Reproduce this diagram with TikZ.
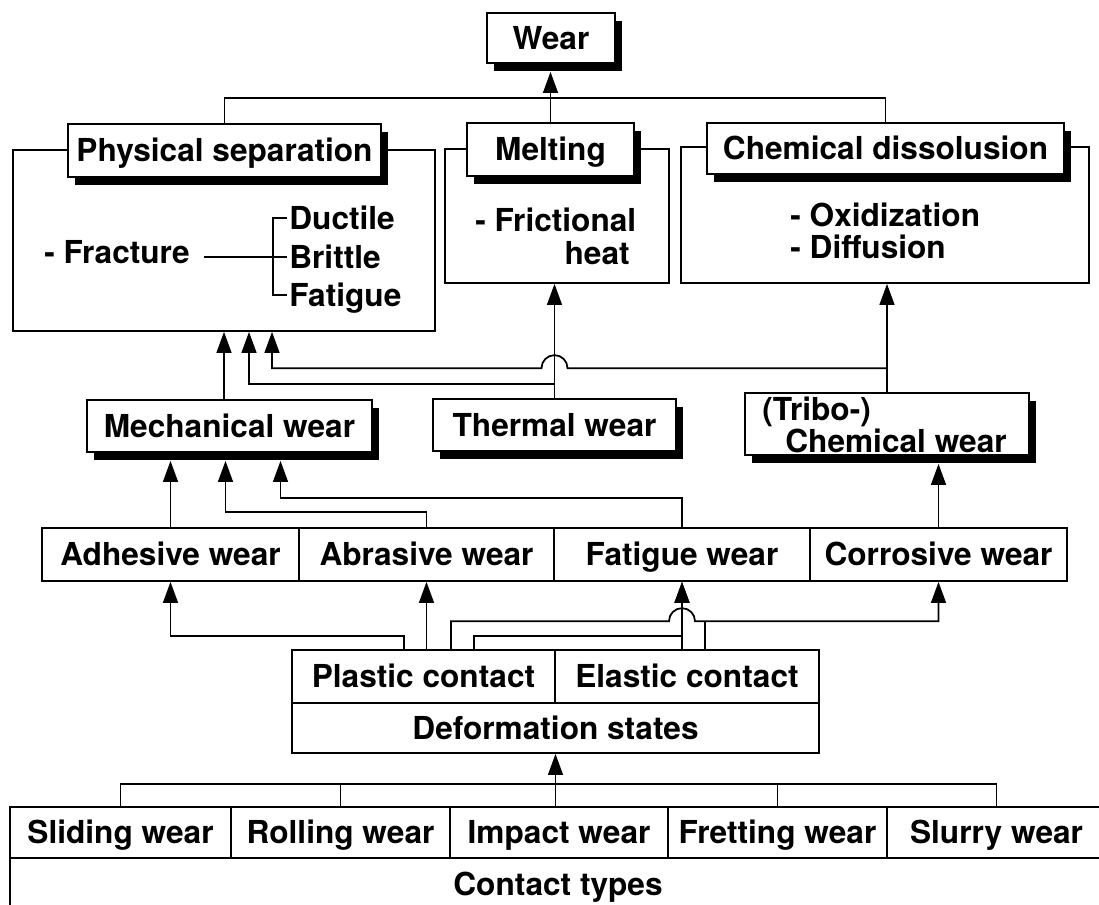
\documentclass[tikz,border=0pt]{standalone}
\usepackage{fontspec}
\setmainfont{TeX Gyre Heros}
\usetikzlibrary{arrows.meta,shadows,calc}

\begin{document}
\begin{tikzpicture}[x=0.02cm, y=-0.02cm,
    font=\fontsize{18}{18}\selectfont\bfseries,
    box/.style={draw, line width=1pt, fill=white, inner sep=0pt,
      text height=12.9pt, text depth=0pt},
    sbox/.style={box, drop shadow={shadow xshift=0.14cm, shadow yshift=-0.16cm,
      fill=black, opacity=1}},
    cont/.style={draw, line width=1pt, inner sep=0pt},
    lbl/.style={inner sep=0pt, anchor=base west},
    wire/.style={line width=1pt},
    arr/.style={wire, -{Triangle[length=12pt,width=8.5pt]}},
    arrs/.style={arr, shorten >=0.16cm}]
  \useasboundingbox (0,0) rectangle (1099,904);

  % top
  \node[sbox, minimum width=2.56cm, minimum height=1cm] (wear) at (551,38) {Wear};

  % the three kinds of separation
  \node[cont, minimum width=8.44cm, minimum height=3.62cm] (psc) at (224,240.5) {};
  \node[cont, minimum width=4.48cm, minimum height=2.68cm] (mlc) at (557,216) {};
  \node[cont, minimum width=8.16cm, minimum height=2.72cm] (cdc) at (885,215) {};
  \node[sbox, minimum width=6.26cm, minimum height=1.06cm] (pst) at (224.5,150.5) {Physical separation};
  \node[sbox, minimum width=3.34cm, minimum height=1.06cm] (mlt) at (550.5,149.5) {Melting};
  \node[sbox, minimum width=7.14cm, minimum height=1.02cm] (cdt) at (885.5,148.5) {Chemical dissolusion};

  \node[lbl] (frac) at (44,263) {- Fracture};
  \node[lbl] (duc) at (289,229) {Ductile};
  \node[lbl] (bri) at (289,268) {Brittle};
  \node[lbl] (fti) at (289,306) {Fatigue};
  \draw[wire] ($(duc.base west)+(-2,-11)$) -- ++(-14,0) |- ($(fti.base west)+(-2,-11)$);
  \draw[wire] ($(frac.base east)+(14,-6)$) -- ($(bri.base west)+(-2,-11)$);

  \node[lbl] (fri) at (475,231) {- Frictional};
  \node[lbl, anchor=base east] (hea) at (630,264) {heat};
  \node[lbl] (oxi) at (790,226) {- Oxidization};
  \node[lbl] (dif) at (790,258) {- Diffusion};

  \draw[wire] (pst.north) -- ++(0,-25) -| (cdt.north);
  \draw[arrs] (mlt.north) -- (mlt.north |- wear.south);

  % wear classes
  \node[sbox, minimum width=5.7cm, minimum height=1.04cm] (mech) at (229.5,426) {Mechanical wear};
  \node[sbox, minimum width=4.86cm, minimum height=1.04cm] (thw) at (554.5,425) {Thermal wear};
  \node[sbox, minimum width=5.68cm, minimum height=1.24cm] (cmw) at (887,424) {};
  \node[lbl] (tri) at (762,420) {(Tribo-)};
  \node[lbl] (chw) at (785,452) {Chemical wear};

  \draw[arr] (psc.south |- mech.north) -- (psc.south);
  \draw[arr] ($(thw.north)+(0,-14)$) -| ($(psc.south)+(25,0)$);
  \draw[arr] (thw.north) -- (thw.north |- mlc.south);
  \draw[arr] (cmw.north) -- (cmw.north |- cdc.south);
  \draw[arr] ($(cmw.north)+(0,-24)$) -- ($(thw.north |- cmw.north)+(13,-24)$)
    arc[start angle=0, end angle=180, radius=0.26cm] -| ($(psc.south)+(48,0)$);

  % wear mechanisms
  \node[box, minimum width=5.14cm, minimum height=1.06cm] (adh) at (170.5,554.5) {Adhesive wear};
  \node[box, minimum width=5.10cm, minimum height=1.06cm] (abr) at (426.5,554.5) {Abrasive wear};
  \node[box, minimum width=5.12cm, minimum height=1.06cm] (fat) at (682,554.5) {Fatigue wear};
  \node[box, minimum width=5.14cm, minimum height=1.06cm] (cor) at (938.5,554.5) {Corrosive wear};

  \draw[arrs] (adh.north) -- (adh.north |- mech.south);
  \draw[arrs] (abr.north) -- ++(0,-15) -| ($(mech.south)+(-4,0)$);
  \draw[arrs] (fat.north) -- ++(0,-29) -| ($(mech.south)+(51,0)$);
  \draw[arrs] (cor.north) -- (cor.north |- cmw.south);

  % deformation states
  \node[box, minimum width=5.26cm, minimum height=1.06cm] (pla) at (423.5,676.5) {Plastic contact};
  \node[box, minimum width=5.28cm, minimum height=1.06cm] (ela) at (687,676.5) {Elastic contact};
  \node[box, minimum width=10.54cm, minimum height=1cm] (dfs) at (555.5,728) {Deformation states};

  \draw[arr] ($(pla.north)+(-19.5,0)$) -- ++(0,-13) -| (adh.south);
  \draw[arr] (pla.north -| abr.south) -- (abr.south);
  \draw[arr] ($(pla.north)+(50.5,0)$) -- ++(0,-13) -| (fat.south);
  \draw[arr] (ela.north -| fat.south) -- (fat.south);
  \draw[wire] ($(ela.north)+(18,0)$) -- ++(0,-28);
  \draw[arr] ($(pla.north)+(27.5,0)$) -- ++(0,-28) -- ($(pla.north -| fat.south)+(-13,-28)$)
    arc[start angle=180, end angle=0, radius=0.26cm] -| (cor.south);

  % contact types
  \node[box, minimum width=4.42cm, minimum height=1.02cm] (sli) at (120.5,832.5) {Sliding wear};
  \node[box, minimum width=4.38cm, minimum height=1.02cm] (rol) at (340.5,832.5) {Rolling wear};
  \node[box, minimum width=4.36cm, minimum height=1.02cm] (imp) at (559,832.5) {Impact wear};
  \node[box, minimum width=4.38cm, minimum height=1.02cm] (fre) at (777.5,832.5) {Fretting wear};
  \node[box, minimum width=4.38cm, minimum height=1.02cm] (slu) at (996.5,832.5) {Slurry wear};
  \node[box, minimum width=21.92cm, minimum height=1.04cm] (ctt) at (558,884) {Contact types};

  \draw[wire] (sli.north) -- ++(0,-22) -| (slu.north);
  \draw[wire] (rol.north) -- ++(0,-22);
  \draw[wire] (fre.north) -- ++(0,-22);
  \draw[arr] (dfs.south |- imp.north) -- (dfs.south);
\end{tikzpicture}
\end{document}
